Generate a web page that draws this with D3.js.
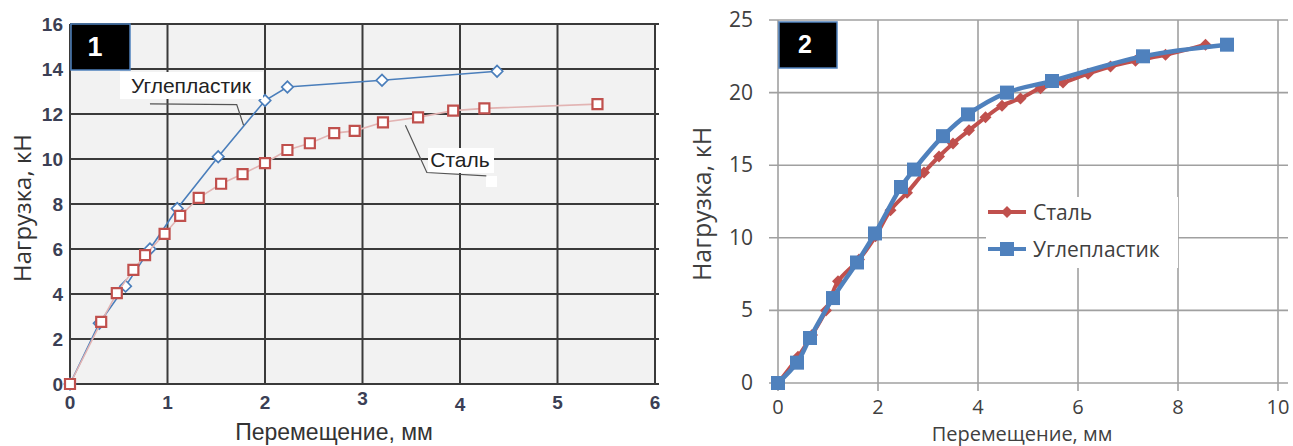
<!DOCTYPE html>
<html>
<head>
<meta charset="utf-8">
<script src="https://cdn.jsdelivr.net/npm/d3@7"></script>
<style>
  body { margin: 0; background: #fff; }
  svg { display: block; }
</style>
</head>
<body>
<svg id="chart" width="1293" height="446"></svg>
<script>
// chart 1 (left) - measured points, mm / kN
let carbon1X = [0, 0.3, 0.57, 0.82, 1.1, 1.52, 2.0, 2.23, 3.2, 4.38];
let carbon1Y = [0, 2.7, 4.35, 6.0, 7.8, 10.1, 12.6, 13.2, 13.5, 13.9];
let steel1X = [0, 0.32, 0.48, 0.65, 0.77, 0.97, 1.13, 1.32, 1.55, 1.77, 2.0, 2.23, 2.46, 2.71, 2.92, 3.21, 3.57, 3.93, 4.25, 5.41];
let steel1Y = [0, 2.76, 4.04, 5.07, 5.73, 6.67, 7.47, 8.27, 8.9, 9.33, 9.82, 10.4, 10.7, 11.15, 11.25, 11.63, 11.85, 12.15, 12.25, 12.44];
let x1Ticks = [0, 1, 2, 3, 4, 5, 6];
let y1Ticks = [0, 2, 4, 6, 8, 10, 12, 14, 16];

// chart 2 (right)
let steel2X = [0, 0.4, 0.68, 0.96, 1.2, 1.62, 1.95, 2.25, 2.58, 2.92, 3.22, 3.5, 3.82, 4.15, 4.48, 4.85, 5.25, 5.7, 6.2, 6.65, 7.15, 7.75, 8.55];
let steel2Y = [0, 1.8, 3.3, 5.0, 7.0, 8.5, 10.1, 11.9, 13.1, 14.5, 15.6, 16.5, 17.4, 18.3, 19.1, 19.6, 20.3, 20.7, 21.3, 21.8, 22.2, 22.6, 23.3];
let carbon2X = [0, 0.38, 0.64, 1.1, 1.58, 1.94, 2.46, 2.72, 3.3, 3.8, 4.58, 5.48, 7.3, 8.98];
let carbon2Y = [0, 1.4, 3.1, 5.85, 8.3, 10.3, 13.5, 14.7, 17.0, 18.5, 20.0, 20.8, 22.5, 23.3];
let x2Ticks = [0, 2, 4, 6, 8, 10];
let y2Ticks = [0, 5, 10, 15, 20, 25];

let seriesNames = ["Сталь", "Углепластик"];
let xTitle = "Перемещение, мм";
let yTitle = "Нагрузка, кН";

let svg = d3.select("#chart");

function zip(xs, ys) {
  return xs.map((x, i) => ({ x: x, y: ys[i] }));
}

// excel style diamond = square turned 45deg
function diamond(size) {
  return d3.symbol(d3.symbolSquare, size);
}

drawChart1();
drawChart2();

function drawChart1() {
  let xScale = d3.scaleLinear().domain([0, 6]).range([70, 655]);
  let yScale = d3.scaleLinear().domain([0, 16]).range([384, 24]);
  let g = svg.append("g");
  let tickFont = "'Liberation Sans', Arial, sans-serif";

  g.append("rect")
    .attr("x", xScale(0)).attr("y", yScale(16))
    .attr("width", xScale(6) - xScale(0))
    .attr("height", yScale(0) - yScale(16))
    .attr("fill", "#f2f2f2");

  g.selectAll(".hgrid").data(y1Ticks).enter().append("line")
    .attr("x1", xScale(0)).attr("x2", xScale(6) + 4)
    .attr("y1", (d) => yScale(d)).attr("y2", (d) => yScale(d))
    .attr("stroke", "#3a3a3a").attr("stroke-width", 2);

  g.selectAll(".vgrid").data(x1Ticks).enter().append("line")
    .attr("x1", (d) => xScale(d)).attr("x2", (d) => xScale(d))
    .attr("y1", yScale(16)).attr("y2", yScale(0))
    .attr("stroke", "#3a3a3a").attr("stroke-width", 2);

  // tick labels (3 and 4 sit a bit off in the original)
  let xOffsets = [0, 0, 0, -4, 2, 0, 0];
  g.selectAll(".xlab").data(x1Ticks).enter().append("text")
    .attr("x", (d) => xScale(d))
    .attr("y", (d, i) => 409 + xOffsets[i])
    .attr("text-anchor", "middle")
    .style("font-family", tickFont).style("font-weight", "bold")
    .style("font-size", "19px").attr("fill", "#3b3f55")
    .text((d) => d);

  g.selectAll(".ylab").data(y1Ticks).enter().append("text")
    .attr("x", 63)
    .attr("y", (d) => yScale(d) + 7)
    .attr("text-anchor", "end")
    .style("font-family", tickFont).style("font-weight", "bold")
    .style("font-size", "19px").attr("fill", "#3b3f55")
    .text((d) => d);

  g.append("text")
    .attr("x", 334).attr("y", 440)
    .attr("text-anchor", "middle")
    .style("font-family", tickFont).style("font-size", "23px")
    .attr("fill", "#333").text(xTitle);

  g.append("text")
    .attr("transform", "translate(31,208) rotate(-90)")
    .attr("text-anchor", "middle")
    .style("font-family", "'Open Sans', sans-serif").style("font-size", "24px")
    .attr("fill", "#333").text(yTitle);

  // label box "1"
  g.append("rect")
    .attr("x", 71).attr("y", 24).attr("width", 59).attr("height", 46)
    .attr("fill", "#000").attr("stroke", "#4f81bd").attr("stroke-width", 1.5);
  g.append("text")
    .attr("x", 95).attr("y", 56).attr("text-anchor", "middle")
    .style("font-family", "'Liberation Sans', Arial, sans-serif")
    .style("font-weight", "bold").style("font-size", "27px")
    .attr("fill", "#fff").text("1");

  let line = d3.line().x((d) => xScale(d.x)).y((d) => yScale(d.y));
  let carbon = zip(carbon1X, carbon1Y);
  let steel = zip(steel1X, steel1Y);

  g.append("path").datum(carbon).attr("d", line)
    .attr("fill", "none").attr("stroke", "#4a7ebb").attr("stroke-width", 1.6);
  g.selectAll(".cmark").data(carbon).enter().append("path")
    .attr("d", diamond(66))
    .attr("transform", (d) => `translate(${xScale(d.x)},${yScale(d.y)}) rotate(45)`)
    .attr("fill", "#fff").attr("stroke", "#4a7ebb").attr("stroke-width", 1.6);

  g.append("path").datum(steel).attr("d", line)
    .attr("fill", "none").attr("stroke", "#e2b4b3").attr("stroke-width", 1.6);
  g.selectAll(".smark").data(steel).enter().append("path")
    .attr("d", d3.symbol(d3.symbolSquare, 100))
    .attr("transform", (d) => `translate(${xScale(d.x)},${yScale(d.y)})`)
    .attr("fill", "#fff").attr("stroke", "#c0504d").attr("stroke-width", 2.2);

  // callout labels
  let labelFont = "'Liberation Sans', Arial, sans-serif";
  let leader = d3.line().x((d) => xScale(d[0])).y((d) => yScale(d[1]));

  g.append("rect")
    .attr("x", 120).attr("y", 72).attr("width", 143).attr("height", 27)
    .attr("fill", "#fff");
  g.append("text")
    .attr("x", 191).attr("y", 93).attr("text-anchor", "middle")
    .style("font-family", labelFont).style("font-size", "21px")
    .attr("fill", "#222").text(seriesNames[1]);
  g.append("path")
    .datum([[0.82, 12.45], [1.71, 12.42], [1.78, 11.5]])
    .attr("d", leader).attr("fill", "none")
    .attr("stroke", "#555").attr("stroke-width", 1.2);

  g.append("rect")
    .attr("x", 428).attr("y", 148).attr("width", 66).attr("height", 25)
    .attr("fill", "#fff");
  g.append("rect")
    .attr("x", 486).attr("y", 176).attr("width", 11).attr("height", 11)
    .attr("fill", "#fff");
  g.append("text")
    .attr("x", 460).attr("y", 167).attr("text-anchor", "middle")
    .style("font-family", labelFont).style("font-size", "21px")
    .attr("fill", "#222").text(seriesNames[0]);
  g.append("path")
    .datum([[3.44, 11.5], [3.66, 9.4], [4.27, 9.25]])
    .attr("d", leader).attr("fill", "none")
    .attr("stroke", "#555").attr("stroke-width", 1.2);
}

function drawChart2() {
  let xScale = d3.scaleLinear().domain([0, 10]).range([778, 1278]);
  let yScale = d3.scaleLinear().domain([0, 25]).range([383, 20]);
  let g = svg.append("g");
  let font = "'Open Sans', 'Noto Sans', sans-serif";
  let grid = "#a0a0a0";

  g.selectAll(".hgrid").data(y2Ticks).enter().append("line")
    .attr("x1", xScale(0) - 9).attr("x2", xScale(10) + 10)
    .attr("y1", (d) => yScale(d)).attr("y2", (d) => yScale(d))
    .attr("stroke", grid).attr("stroke-width", 1.6);

  g.selectAll(".vgrid").data(x2Ticks).enter().append("line")
    .attr("x1", (d) => xScale(d)).attr("x2", (d) => xScale(d))
    .attr("y1", yScale(25)).attr("y2", yScale(0) + 8)
    .attr("stroke", grid).attr("stroke-width", 1.6);

  g.selectAll(".xlab").data(x2Ticks).enter().append("text")
    .attr("x", (d) => xScale(d)).attr("y", 413.5)
    .attr("text-anchor", "middle")
    .style("font-family", font).style("font-size", "20px")
    .attr("fill", "#404040").text((d) => d);

  g.selectAll(".ylab").data(y2Ticks).enter().append("text")
    .attr("x", 753).attr("y", (d) => yScale(d) + 7)
    .attr("text-anchor", "end")
    .style("font-family", font).style("font-size", "21px")
    .attr("fill", "#404040").text((d) => d);

  g.append("text")
    .attr("x", 1022).attr("y", 441).attr("text-anchor", "middle")
    .style("font-family", font).style("font-size", "20px")
    .attr("fill", "#404040").text(xTitle);

  g.append("text")
    .attr("transform", "translate(711,204) rotate(-90)")
    .attr("text-anchor", "middle")
    .style("font-family", font).style("font-size", "25px")
    .attr("fill", "#404040").text(yTitle);

  // label box "2"
  g.append("rect")
    .attr("x", 779).attr("y", 22).attr("width", 58).attr("height", 46)
    .attr("fill", "#000").attr("stroke", "#4f81bd").attr("stroke-width", 1.5);
  g.append("text")
    .attr("x", 805).attr("y", 53).attr("text-anchor", "middle")
    .style("font-family", "'Liberation Sans', Arial, sans-serif")
    .style("font-weight", "bold").style("font-size", "25px")
    .attr("fill", "#fff").text("2");

  let line = d3.line()
    .x((d) => xScale(d.x)).y((d) => yScale(d.y))
    .curve(d3.curveCatmullRom.alpha(0.5));
  let steel = zip(steel2X, steel2Y);
  let carbon = zip(carbon2X, carbon2Y);

  g.append("path").datum(steel).attr("d", line)
    .attr("fill", "none").attr("stroke", "#c0504d").attr("stroke-width", 4);
  g.selectAll(".smark").data(steel).enter().append("path")
    .attr("d", diamond(72))
    .attr("transform", (d) => `translate(${xScale(d.x)},${yScale(d.y)}) rotate(45)`)
    .attr("fill", "#c0504d");

  g.append("path").datum(carbon).attr("d", line)
    .attr("fill", "none").attr("stroke", "#4f81bd").attr("stroke-width", 4.5);
  g.selectAll(".cmark").data(carbon).enter().append("path")
    .attr("d", d3.symbol(d3.symbolSquare, 196))
    .attr("transform", (d) => `translate(${xScale(d.x)},${yScale(d.y)})`)
    .attr("fill", "#4f81bd");

  // legend
  let legend = g.append("g").attr("transform", "translate(986,197)");
  legend.append("rect")
    .attr("width", 192).attr("height", 71).attr("fill", "#fff");
  let colors = ["#c0504d", "#4f81bd"];
  seriesNames.forEach((name, i) => {
    let y = 15 + i * 37;
    legend.append("line")
      .attr("x1", 2).attr("x2", 40).attr("y1", y).attr("y2", y)
      .attr("stroke", colors[i]).attr("stroke-width", 4);
    legend.append("path")
      .attr("d", i == 0 ? diamond(72) : d3.symbol(d3.symbolSquare, 196))
      .attr("transform", `translate(21,${y})` + (i == 0 ? " rotate(45)" : ""))
      .attr("fill", colors[i]);
    legend.append("text")
      .attr("x", 47).attr("y", y + 8)
      .style("font-family", font).style("font-size", "21px")
      .attr("fill", "#404040").text(name);
  });
}
</script>
</body>
</html>
